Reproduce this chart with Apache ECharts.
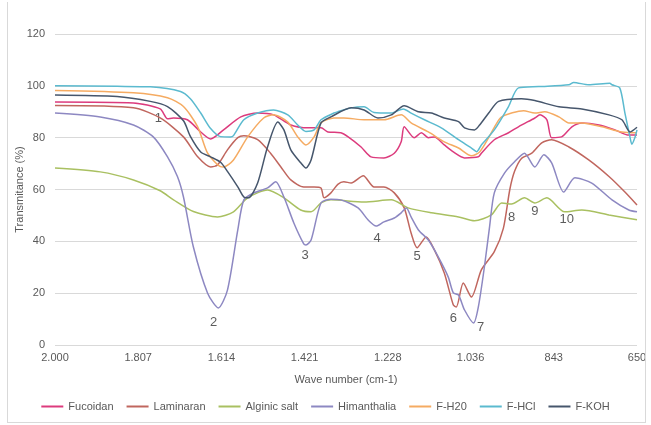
<!DOCTYPE html>
<html>
<head>
<meta charset="utf-8">
<script src="https://cdn.jsdelivr.net/npm/echarts@6/dist/echarts.min.js"></script>
<style>
  html, body { margin: 0; padding: 0; background: #fff; }
  #chart { width: 651px; height: 425px; position: relative; }
  .frame { position: absolute; left: 7px; right: 5px; top: 2px; bottom: 2px;
           border: 1px solid #d9d9d9; border-top: none; pointer-events: none; }
</style>
</head>
<body>
<div id="chart"></div>
<div class="frame"></div>
<script>
// tick labels on the wavenumber axis (reversed, european thousands dot)
const tickValues = [2000, 1807, 1614, 1421, 1228, 1036, 843, 650]
const tickLabels = ['2.000', '1.807', '1.614', '1.421', '1.228', '1.036', '843', '650']

// [wave number, transmittance %]
const fucoidan = [[2000,93.8],[1818,93.4],[1756,91.1],[1739,87.3],[1725,87.6],[1693,86.9],[1662,82.2],[1639,79.5],[1609,83],[1569,88],[1530,89.5],[1493,88.8],[1453,84.9],[1413,83.8],[1383,83.8],[1367,82.2],[1337,81.9],[1320,80.3],[1290,76.4],[1267,72.6],[1237,72.2],[1213,74],[1197,78.4],[1190,84.2],[1167,80],[1150,81.9],[1134,80],[1120,80.3],[1097,77.2],[1076,74.5],[1050,72.2],[1018,72.6],[1011,74],[981,79.2],[948,81.9],[925,84.2],[887,87.6],[875,88.8],[859,86.9],[848,80],[825,80.3],[801,84.2],[778,85.7],[738,84.9],[701,83],[669,81],[650,81]]
const laminaran = [[2000,92.4],[1818,91.5],[1756,87.6],[1702,80.3],[1669,72.6],[1639,68.7],[1623,69.5],[1600,75.3],[1576,80],[1562,80.7],[1530,79.2],[1500,74],[1476,68.7],[1453,63.7],[1423,61],[1399,61],[1383,60.6],[1376,56.8],[1360,58.7],[1344,62],[1330,63],[1313,62.5],[1285,65.3],[1260,61],[1237,61],[1213,58.7],[1190,52.9],[1174,43.2],[1160,37.5],[1139,41.7],[1120,36.7],[1097,27.8],[1076,15.4],[1069,14.7],[1053,23.9],[1034,18.5],[1011,29],[981,36],[960,45],[945,60],[934,67],[918,72],[894,74],[871,78],[848,79.2],[808,76.4],[762,71.4],[715,65],[678,59],[650,54]]
const alginic = [[2000,68.3],[1895,66.8],[1818,63.7],[1756,59.5],[1725,56],[1679,51.5],[1623,49.4],[1586,51.4],[1553,56.8],[1507,59.8],[1469,56.8],[1430,52.1],[1406,51.4],[1383,54.8],[1360,56],[1283,55.2],[1220,56],[1181,52.9],[1127,51],[1064,49.4],[1027,47.9],[988,50.2],[964,54.8],[941,54.4],[911,56.8],[887,54.8],[859,56.8],[818,51.4],[778,52.1],[715,50.2],[650,48.3]]
const himanthalia = [[2000,89.5],[1895,88],[1818,84.9],[1772,80.3],[1739,72.6],[1716,65],[1702,57.1],[1679,37.8],[1646,20],[1621,14.3],[1600,21.2],[1576,44.4],[1562,56],[1539,58.7],[1507,60.6],[1488,63],[1469,57.1],[1446,47.1],[1423,39],[1418,38.6],[1406,40.5],[1383,54.8],[1360,56.2],[1337,56],[1297,52.9],[1274,48.3],[1255,45.9],[1237,47.5],[1213,49],[1197,51],[1185,52.9],[1174,49.4],[1157,44.4],[1134,40.5],[1111,34],[1088,26.3],[1076,20.1],[1064,19.3],[1050,13.5],[1029,8.5],[1018,14.7],[1004,30.1],[992,45.6],[981,58.7],[957,66.4],[934,70.7],[911,74],[887,68.7],[866,73.4],[848,70.3],[820,59],[794,64.5],[755,62.5],[708,56],[669,52.1],[650,51.4]]
const fH20 = [[2000,98.2],[1818,97.3],[1739,95.4],[1702,92],[1669,84.2],[1646,74],[1616,68.8],[1609,68.7],[1586,71.4],[1553,80.3],[1516,87.6],[1493,88.8],[1460,86],[1437,80.3],[1418,77.2],[1399,80.3],[1383,85.7],[1353,87.6],[1330,87.6],[1283,86.9],[1237,86.9],[1197,88.8],[1174,85.7],[1134,82.2],[1097,78.4],[1064,76],[1034,73],[1015,74.5],[994,80],[981,84],[964,88],[913,90.4],[887,89.5],[864,90],[831,88],[808,85.7],[778,85.7],[731,84.2],[685,82.2],[650,81.9]]
const fHCl = [[2000,100],[1856,99.8],[1779,99.6],[1709,97.8],[1686,95],[1662,89.5],[1639,83.5],[1616,80.4],[1593,80.3],[1586,80.8],[1562,86.9],[1530,89.5],[1493,90.7],[1460,88.8],[1437,84.9],[1418,82.4],[1399,83],[1383,86.9],[1353,89.5],[1344,90],[1313,91.5],[1283,91.9],[1260,89.7],[1220,89.5],[1192,91.1],[1174,89.5],[1143,86.9],[1104,83.8],[1064,79.2],[1034,76],[1022,74.6],[1011,77.2],[981,83],[948,92],[925,99.2],[878,99.7],[808,100.4],[797,101.3],[762,100.4],[713,101],[708,100.4],[690,99.2],[678,89.5],[666,80],[662,77.5],[655,80],[650,83]]
const fKOH = [[2000,96.5],[1856,95.9],[1779,94],[1739,92],[1702,86.5],[1686,80.5],[1662,74.5],[1639,72.6],[1616,70.5],[1600,67],[1576,61],[1562,57.1],[1551,56.8],[1530,62.5],[1507,76.4],[1483,86],[1469,83],[1453,75.3],[1430,70.3],[1418,68.3],[1406,71.4],[1383,85.7],[1360,88],[1313,91.5],[1283,90.7],[1251,87.6],[1220,88.8],[1190,92.3],[1157,90],[1127,89.5],[1097,87.6],[1064,86.2],[1050,83.8],[1027,83],[1015,84.9],[994,89.5],[971,94],[918,95],[887,94.3],[831,91.9],[778,91.1],[715,88.8],[685,86.9],[666,82.2],[650,84]]

// numbered band labels [wave number, transmittance, text]
const peaks = [[1760,87.3,'1'],[1632,8.9,'2'],[1420,34.7,'3'],[1253,41.3,'4'],[1160,34,'5'],[1076,10.4,'6'],[1013,6.6,'7'],[941,49.4,'8'],[887,51.4,'9'],[813,48.3,'10']]

const names = ['Fucoidan', 'Laminaran', 'Alginic salt', 'Himanthalia', 'F-H20', 'F-HCl', 'F-KOH']
const colors = ['#dc3b7d', '#c0665e', '#a9c061', '#8d88c2', '#f5ab62', '#5bbacf', '#46566c']
const datasets = [fucoidan, laminaran, alginic, himanthalia, fH20, fHCl, fKOH]

const font = 'Liberation Sans'
const series = names.map((n, i) => ({
  name: n,
  type: 'line',
  data: datasets[i],
  symbol: 'none',
  smooth: 0.25,
  color: colors[i],
  lineStyle: { width: 1.5 }
}))
series.push({
  name: 'labels',
  type: 'scatter',
  data: peaks,
  symbolSize: 0,
  silent: true,
  label: {
    show: true,
    position: 'inside',
    formatter: p => p.data[2],
    color: '#333',
    fontSize: 13,
    fontFamily: font
  }
})

const chart = echarts.init(document.getElementById('chart'))
chart.setOption({
  animation: false,
  grid: { left: 55, right: 14, top: 34, bottom: 80 },
  legend: {
    data: names,
    bottom: 8,
    left: 'center',
    icon: 'rect',
    itemWidth: 22,
    itemHeight: 2,
    itemGap: 13,
    textStyle: { color: '#595959', fontSize: 11, fontFamily: font }
  },
  xAxis: {
    type: 'value',
    inverse: true,
    min: 650,
    max: 2000,
    name: 'Wave number (cm-1)',
    nameLocation: 'middle',
    nameGap: 29,
    nameTextStyle: { color: '#595959', fontSize: 11, fontFamily: font },
    axisLine: { show: false },
    axisTick: { show: false },
    splitLine: { show: false },
    axisLabel: {
      customValues: tickValues,
      formatter: v => tickLabels[tickValues.indexOf(v)],
      color: '#595959',
      fontSize: 11,
      fontFamily: font,
      margin: 7
    }
  },
  yAxis: {
    type: 'value',
    min: 0,
    max: 120,
    interval: 20,
    name: 'Transmitance (%)',
    nameLocation: 'middle',
    nameGap: 30,
    nameMoveOverlap: false,
    nameTextStyle: { color: '#595959', fontSize: 11, fontFamily: font },
    axisLine: { show: false },
    axisTick: { show: false },
    splitLine: { lineStyle: { color: '#d9d9d9', width: 1 } },
    axisLabel: { color: '#595959', fontSize: 11, fontFamily: font, margin: 10 }
  },
  series: series
})
</script>
</body>
</html>
